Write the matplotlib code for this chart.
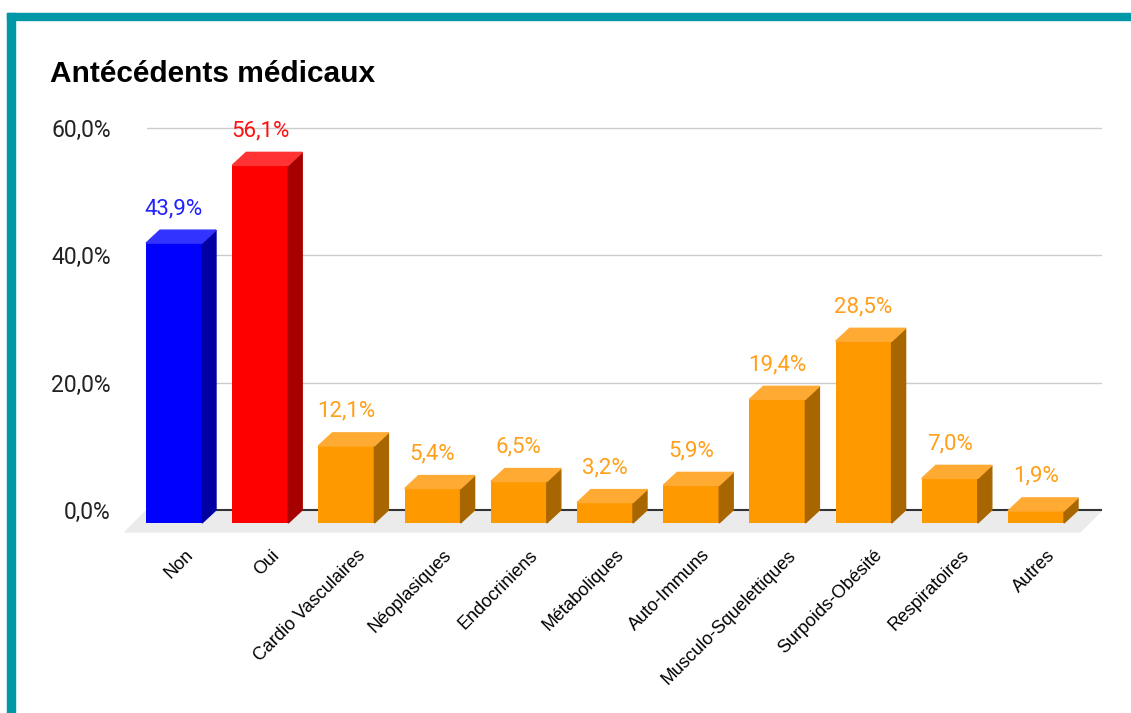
import matplotlib.pyplot as plt
from matplotlib.patches import Polygon, Rectangle

categories = ["Non", "Oui", "Cardio Vasculaires", "Néoplasiques", "Endocriniens",
              "Métaboliques", "Auto-Immuns", "Musculo-Squelettiques", "Surpoids-Obésité",
              "Respiratoires", "Autres"]
values = [43.9, 56.1, 12.1, 5.4, 6.5, 3.2, 5.9, 19.4, 28.5, 7.0, 1.9]
y_ticks = [0, 20, 40, 60]
y_labels = ["0,0%", "20,0%", "40,0%", "60,0%"]

# couleurs : face avant, côté, dessus, étiquette
palette = {
    "Non": ("#0000FF", "#0000A3", "#3333FF", "#2222FF"),
    "Oui": ("#FF0000", "#A60000", "#FF3333", "#FF1111"),
}
orange = ("#FF9900", "#A86600", "#FFAA33", "#FF9F1A")

W, H = 1131, 713
fig = plt.figure(figsize=(W / 100, H / 100), dpi=100)

# cadre turquoise (haut et gauche)
fig.patches.append(Rectangle((7 / W, 0), 8 / W, (H - 13) / H, transform=fig.transFigure,
                             color="#0097A7", zorder=0))
fig.patches.append(Rectangle((7 / W, (H - 20) / H), (W - 7) / W, 7 / H, transform=fig.transFigure,
                             color="#0097A7", zorder=0))

fig.text(50 / W, (H - 74) / H, "Antécédents médicaux", fontsize=21.5, fontweight="bold",
         family="Liberation Sans", va="center", ha="left")

px_x = 86.2        # pixels par catégorie
px_y = 6.375       # pixels par %
x0, x1 = -41 / px_x, 914 / px_x
y0, y1 = -4.0, 62.0
left = 147
bottom_px = 510 + (0 - y0) * px_y
top_px = 510 - y1 * px_y
ax = fig.add_axes([left / W, (H - bottom_px) / H, (x1 - x0) * px_x / W, (bottom_px - top_px) / H])
ax.set_xlim(x0, x1)
ax.set_ylim(y0, y1)
for s in ax.spines.values():
    s.set_visible(False)

# lignes de grille sur le mur du fond
for t in y_ticks[1:]:
    ax.axhline(t, color="#CCCCCC", lw=1, zorder=1)

# sol
fdx, fdy = 22 / px_x, 22 / px_y
floor = Polygon([(x0, 0), (x1, 0), (x1 - fdx, -fdy), (x0 - fdx, -fdy)],
                closed=True, color="#EBEBEB", clip_on=False, zorder=1)
ax.add_patch(floor)
ax.axhline(0, color="#333333", lw=1.5, zorder=2)

# barres 3D
dx, dy = 14 / px_x, 13 / px_y
w = 56 / px_x
xs = list(range(len(categories)))
front_cols = [palette.get(c, orange)[0] for c in categories]
ax.bar([x - dx for x in xs], values, bottom=-dy, width=w, color=front_cols,
       zorder=3, clip_on=False)
for x, v, c in zip(xs, values, categories):
    col = palette.get(c, orange)
    side = Polygon([(x - dx + w / 2, -dy), (x + w / 2, 0), (x + w / 2, v), (x - dx + w / 2, v - dy)],
                   closed=True, color=col[1], zorder=3, clip_on=False)
    top = Polygon([(x - dx - w / 2, v - dy), (x - dx + w / 2, v - dy), (x + w / 2, v), (x - w / 2, v)],
                  closed=True, color=col[2], zorder=3, clip_on=False)
    ax.add_patch(side)
    ax.add_patch(top)
    ax.text(x - dx, v + 21.5 / px_y, f"{v:.1f}".replace(".", ",") + "%", color=col[3],
            fontsize=16, family="Roboto", ha="center", va="center")

ax.set_yticks(y_ticks)
ax.set_yticklabels(y_labels, fontsize=16.5, family="Roboto", color="#222222")
ax.tick_params(axis="y", length=0, pad=26)
ax.set_xticks([x - dx + 0.12 for x in xs])
ax.set_xticklabels(categories, rotation=45, ha="right", va="top", rotation_mode="anchor",
                   fontsize=13, family="Liberation Sans")
ax.tick_params(axis="x", length=0, pad=8)

fig.savefig("out.png", dpi=100)
